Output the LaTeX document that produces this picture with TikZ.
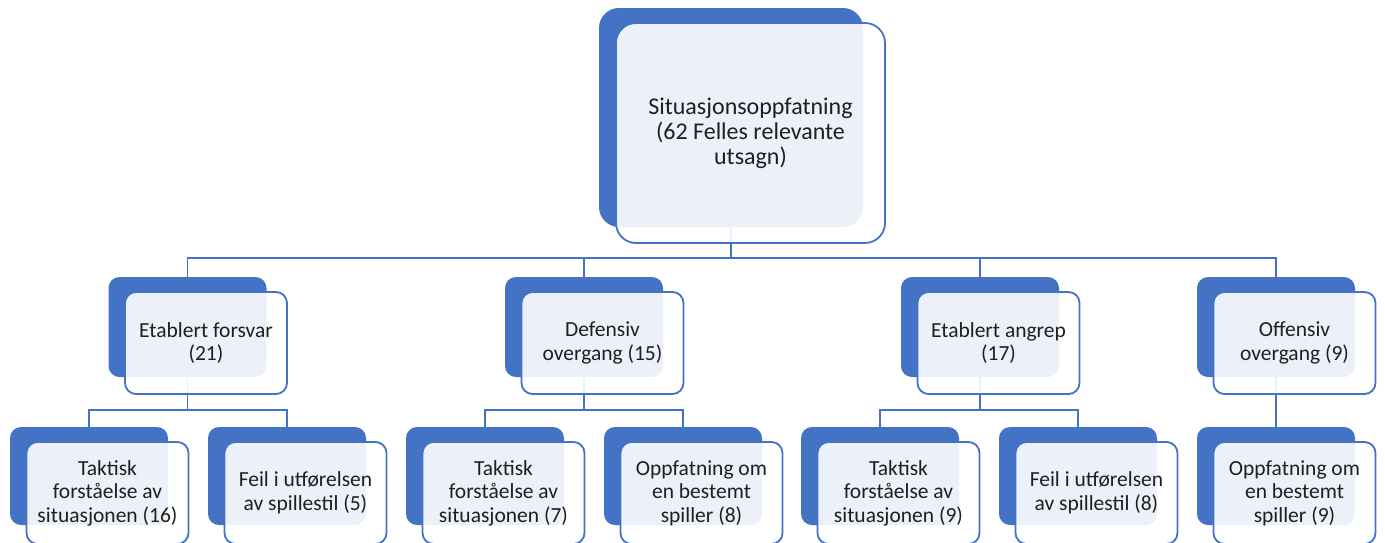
\documentclass[tikz,border=0pt]{standalone}
\usepackage{fontspec}
\setmainfont{Carlito}
\definecolor{smblue}{HTML}{4472C4}
\definecolor{smtext}{HTML}{1F1F1F}
\tikzset{
  backbox/.style={rectangle, rounded corners=11pt, fill=smblue,
    minimum width=158pt, minimum height=100pt, inner sep=0pt},
  frontbox/.style={rectangle, rounded corners=11pt, draw=smblue, line width=1.8pt,
    fill=white, fill opacity=0.9, text opacity=1, text=smtext,
    minimum width=162pt, minimum height=102pt, align=center, inner sep=2pt,
    font=\fontsize{21.5}{23.5}\selectfont},
  link/.style={draw=smblue, line width=1.8pt},
}
\begin{document}
\begin{tikzpicture}[x=1pt,y=-1pt]
  \clip (0,0) rectangle (1385,542);

  % back boxes
  \node[backbox, minimum width=264pt, minimum height=219pt, rounded corners=20pt] (rootb) at (731,117.5) {};
  \node[backbox] (forsvarb) at (187.5,327) {};
  \node[backbox] (defb) at (584,327) {};
  \node[backbox] (angrepb) at (980,327) {};
  \node[backbox] (offb) at (1276,327) {};

  \node[backbox, minimum height=98pt] (l1b) at (89,476) {};
  \node[backbox, minimum height=98pt] (l2b) at (287,476) {};
  \node[backbox, minimum height=98pt] (l3b) at (485,476) {};
  \node[backbox, minimum height=98pt] (l4b) at (683,476) {};
  \node[backbox, minimum height=98pt] (l5b) at (880,476) {};
  \node[backbox, minimum height=98pt] (l6b) at (1078,476) {};
  \node[backbox, minimum height=98pt] (l7b) at (1276,476) {};

  % connectors
  \coordinate (bar) at (0,258);
  \coordinate (bar1) at (0,410);

  \draw[link] (rootb.south) -- (rootb.south |- bar) -| (forsvarb.north);
  \draw[link] (rootb.south |- bar) -| (defb.north);
  \draw[link] (rootb.south |- bar) -| (angrepb.north);
  \draw[link] (rootb.south |- bar) -| (offb.north);

  \draw[link] (forsvarb.south) -- (forsvarb.south |- bar1) -| (l1b.north);
  \draw[link] (forsvarb.south |- bar1) -| (l2b.north);
  \draw[link] (defb.south) -- (defb.south |- bar1) -| (l3b.north);
  \draw[link] (defb.south |- bar1) -| (l4b.north);
  \draw[link] (angrepb.south) -- (angrepb.south |- bar1) -| (l5b.north);
  \draw[link] (angrepb.south |- bar1) -| (l6b.north);
  \draw[link] (offb.south) -- (l7b.north);

  % front boxes
  \node[frontbox, minimum width=269pt, minimum height=220pt, rounded corners=20pt,
    font=\fontsize{24}{25}\selectfont] (root) at (750.5,133)
    {Situasjonsoppfatning\\(62 Felles relevante\\utsagn)};

  \node[frontbox] (forsvar) at (206,343) {Etablert forsvar\\(21)};
  \node[frontbox] (def) at (602.5,343) {Defensiv\\overgang (15)};
  \node[frontbox] (angrep) at (998.5,343) {Etablert angrep\\(17)};
  \node[frontbox] (off) at (1294.5,343) {Offensiv\\overgang (9)};

  \node[frontbox] (l1) at (107.5,493) {Taktisk\\forståelse av\\situasjonen (16)};
  \node[frontbox] (l2) at (305.5,493) {Feil i utførelsen\\av spillestil (5)};
  \node[frontbox] (l3) at (503.5,493) {Taktisk\\forståelse av\\situasjonen (7)};
  \node[frontbox] (l4) at (701.5,493) {Oppfatning om\\en bestemt\\spiller (8)};
  \node[frontbox] (l5) at (898.5,493) {Taktisk\\forståelse av\\situasjonen (9)};
  \node[frontbox] (l6) at (1096.5,493) {Feil i utførelsen\\av spillestil (8)};
  \node[frontbox] (l7) at (1294.5,493) {Oppfatning om\\en bestemt\\spiller (9)};
\end{tikzpicture}
\end{document}
